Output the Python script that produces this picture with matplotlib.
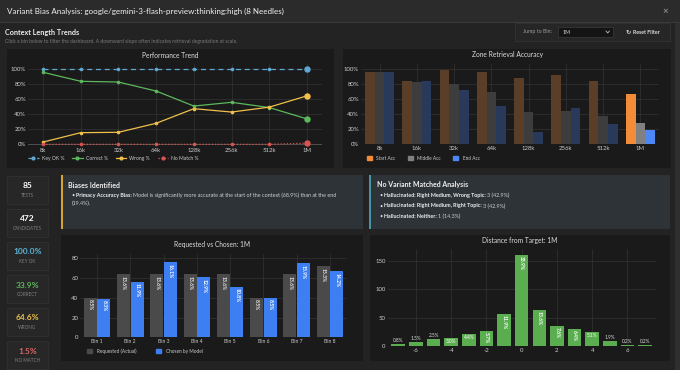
import matplotlib
matplotlib.use('Agg')
import matplotlib.pyplot as plt
from matplotlib.patches import Rectangle, Patch
from matplotlib.lines import Line2D

plt.rcParams['font.family'] = ['Lato', 'DejaVu Sans']
plt.rcParams['axes.unicode_minus'] = False

W, H = 680, 370

# ---- data ----
bins = ['8k', '16k', '32k', '64k', '128k', '256k', '512k', '1M']
key_ok = [100, 100, 100, 100, 100, 100, 100, 100]
correct = [96, 84, 83, 71, 51, 56, 49, 33.9]
wrong = [3, 15.5, 16, 28, 47.5, 43, 49.5, 64.6]
no_match = [0, 0, 0, 0, 0, 0, 0, 1.5]

start_acc = [96, 85, 99, 97, 89, 92, 85, 67]
middle_acc = [96, 83, 81, 70, 43, 45, 38, 28]
end_acc = [97, 84, 72, 51, 17, 48, 27, 19]

needle_bins = ['Bin 1', 'Bin 2', 'Bin 3', 'Bin 4', 'Bin 5', 'Bin 6', 'Bin 7', 'Bin 8']
requested = [40, 64, 64, 64, 64, 40, 64, 72]
chosen = [39, 56, 76, 61, 51, 40, 75, 67]
n_candidates = 472

distances = [-7, -6, -5, -4, -3, -2, -1, 0, 1, 2, 3, 4, 5, 6, 7]
dist_counts = [4, 7, 12, 14, 21, 27, 56, 160, 64, 36, 30, 24, 9, 1, 1]

stat_values = ['85', '472', '100.0%', '33.9%', '64.6%', '1.5%']
stat_labels = ['TESTS', 'CANDIDATES', 'KEY OK', 'CORRECT', 'WRONG', 'NO MATCH']
stat_colors = ['#ffffff', '#ffffff', '#5bb4d8', '#5cb85c', '#f0c04a', '#e06666']

bias_title = 'Biases Identified'
bias_bold = 'Primacy Accuracy Bias:'
bias_text = 'Model is significantly more accurate at the start of the context (68.9%) than at the end'
bias_text2 = '(19.4%).'

nv_title = 'No Variant Matched Analysis'
nv_items = [('Hallucinated: Right Medium, Wrong Topic:', '3 (42.9%)'),
            ('Hallucinated: Right Medium, Right Topic:', '3 (42.9%)'),
            ('Hallucinated: Neither:', '1 (14.3%)')]

BG = '#232323'
HEAD = '#2b2b2b'
PANEL = '#1a1a1a'
GRID = '#333333'
TXT = '#cccccc'

fig = plt.figure(figsize=(W / 100, H / 100), dpi=100, facecolor=BG)
rend = fig.canvas.get_renderer()


def rect(x0, y0, x1, y1, fc, ec='none', lw=0):
    fig.patches.append(Rectangle((x0 / W, 1 - y1 / H), (x1 - x0) / W, (y1 - y0) / H,
                                 transform=fig.transFigure, fc=fc, ec=ec, lw=lw, zorder=-5))


def t(x, y, s, **kw):
    kw.setdefault('va', 'center')
    kw.setdefault('color', TXT)
    return fig.text(x / W, 1 - y / H, s, **kw)


def rich(x, y, parts, size):
    for s, weight, color in parts:
        tx = t(x, y, s, fontsize=size, fontweight=weight, color=color)
        x += tx.get_window_extent(rend).width + 1.6


def px_axes(x0, y0, x1, y1):
    return fig.add_axes([x0 / W, 1 - y1 / H, (x1 - x0) / W, (y1 - y0) / H])


def style(ax):
    ax.set_facecolor(PANEL)
    for s in ax.spines.values():
        s.set_visible(False)
    ax.tick_params(colors=TXT, labelsize=4.3, length=0, pad=1.5)
    ax.grid(True, color=GRID, lw=0.5)
    ax.set_axisbelow(True)


# ---- header ----
rect(0, 0, W, 22, HEAD)
rect(0, 22, W, 22.7, '#3a3a3a')
t(7, 11.5, 'Variant Bias Analysis: google/gemini-3-flash-preview:thinking:high (8 Needles)',
  fontsize=5.8, color='#f2f2f2')
t(665, 11.5, '×', fontsize=7, color='#888888', ha='center', fontweight='bold')
rect(675, 23, 680, H, '#2f2f2f')

t(5, 32, 'Context Length Trends', fontsize=5.2, fontweight='bold', color='#eeeeee')
t(5, 41, 'Click a bin below to filter the dashboard. A downward slope often indicates retrieval degradation at scale.',
  fontsize=3.6, color='#7a7a7a')

rect(515, 23, 670, 41, '#262626', ec='#333333', lw=0.6)
t(523, 32, 'Jump to Bin:', fontsize=3.8, color='#9a9a9a')
rect(558, 27, 613, 37, '#141414', ec='#3c3c3c', lw=0.5)
t(563, 32, '1M', fontsize=3.8, color='#dddddd')
fig.add_artist(Line2D([606 / W, 607.7 / W, 609.4 / W], [1 - 31 / H, 1 - 33 / H, 1 - 31 / H],
                      transform=fig.transFigure, color='#bbbbbb', lw=0.6))
t(628, 32, '↻', fontsize=4.5, color='#dddddd', ha='center', fontweight='bold')
t(633, 32, 'Reset Filter', fontsize=3.8, color='#dddddd', fontweight='bold')

# ---- panels ----
rect(7, 49, 334, 168, PANEL)
rect(343, 49, 671, 168, PANEL)
rect(61, 175, 363, 229, '#2e3337')
rect(61, 175, 63, 229, '#d4a72c')
rect(369, 175, 670, 229, '#2e3337')
rect(369, 175, 371, 229, '#4a93a6')
rect(61, 235, 363, 361, PANEL)
rect(370, 235, 670, 361, PANEL)

for i in range(6):
    y0 = 176 + i * 33
    rect(7, y0, 48, y0 + 28, '#272727', ec='#303030', lw=0.6)
    t(27.5, y0 + 10, stat_values[i], fontsize=6, fontweight='bold', color=stat_colors[i], ha='center')
    t(27.5, y0 + 19.5, stat_labels[i], fontsize=3.3, color='#7f7f7f', ha='center')

# ---- text panels ----
t(68, 185, bias_title, fontsize=5, fontweight='bold', color='#eeeeee')
t(71, 195.5, '•', fontsize=4, color='#dddddd')
rich(75.5, 195.5, [(bias_bold, 'bold', '#eeeeee'), (bias_text, 'normal', '#cfcfcf')], 3.9)
t(71.5, 203, bias_text2, fontsize=3.9, color='#cfcfcf')

t(377, 185, nv_title, fontsize=5, fontweight='bold', color='#eeeeee')
for i, (b, r) in enumerate(nv_items):
    yy = 195.5 + i * 10.5
    t(379, yy, '•', fontsize=4, color='#dddddd')
    rich(383.5, yy, [(b, 'bold', '#eeeeee'), (r, 'normal', '#cfcfcf')], 3.9)

# ---- Performance Trend ----
t(170.5, 55, 'Performance Trend', fontsize=4.8, ha='center', color='#dddddd')
ax1 = px_axes(28, 64, 322, 146)
style(ax1)
xs = list(range(len(bins)))
ax1.set_xlim(-0.4, 7.4)
ax1.set_ylim((144.3 - 146) / 0.75, 100 + (69.3 - 64) / 0.75)
ax1.set_yticks([0, 20, 40, 60, 80, 100])
ax1.set_yticklabels([f'{v}%' for v in [0, 20, 40, 60, 80, 100]])
ax1.set_xticks(xs)
ax1.set_xticklabels(bins)
ax1.axhline(0, color='#555555', lw=0.6, zorder=1)
series = [(key_ok, '#5fa8d3', (0, (4, 3)), 'Key OK %'),
          (correct, '#5cb85c', '-', 'Correct %'),
          (wrong, '#f0c04a', '-', 'Wrong %'),
          (no_match, '#d9534f', (0, (1, 1.5)), 'No Match %')]
handles = []
for vals, col, ls, lab in series:
    ax1.plot(xs, vals, color=col, ls=ls, lw=0.9, marker='o', ms=1.6, zorder=3)
    ax1.plot([xs[-1]], [vals[-1]], 'o', color=col, ms=3.6, zorder=4)
    handles.append(Line2D([0], [0], color=col, ls=ls, lw=0.9, marker='o', ms=2, label=lab))
ax1.legend(handles=handles, ncol=4, loc='center left', bbox_to_anchor=(28 / W, 1 - 158 / H),
           bbox_transform=fig.transFigure, frameon=False, fontsize=3.6, labelcolor=TXT,
           handlelength=2.1, handletextpad=0.6, columnspacing=1.6, borderpad=0, borderaxespad=0)

# ---- Zone Retrieval Accuracy ----
t(507, 55, 'Zone Retrieval Accuracy', fontsize=4.8, ha='center', color='#dddddd')
ax2 = px_axes(361, 64, 659, 144.3)
style(ax2)
ax2.set_xlim(-0.5, 7.5)
ax2.set_ylim(0, (144.3 - 64) / 0.75)
ax2.set_yticks([0, 20, 40, 60, 80, 100])
ax2.set_yticklabels([f'{v}%' for v in [0, 20, 40, 60, 80, 100]])
ax2.set_xticks(xs)
ax2.set_xticklabels(bins)
ax2.axhline(0, color='#555555', lw=0.6, zorder=3)
zone = [(start_acc, '#f28c38', '#5b3e27', 'Start Acc', -1),
        (middle_acc, '#808080', '#3d3d3d', 'Middle Acc', 0),
        (end_acc, '#4d86f5', '#28395b', 'End Acc', 1)]
bw = 0.26
zh = []
for vals, col, dim, lab, k in zone:
    cols = [dim] * (len(bins) - 1) + [col]
    ax2.bar([x + k * bw for x in xs], vals, width=bw, color=cols, zorder=2)
    zh.append(Patch(color=col, label=lab))
ax2.legend(handles=zh, ncol=3, loc='center left', bbox_to_anchor=(367 / W, 1 - 158 / H),
           bbox_transform=fig.transFigure, frameon=False, fontsize=3.4, labelcolor=TXT,
           handlelength=1.0, handleheight=1.0, handletextpad=1.0, columnspacing=2.6,
           borderpad=0, borderaxespad=0)

# ---- Requested vs Chosen ----
t(212, 244, 'Requested vs Chosen: 1M', fontsize=4.8, ha='center', color='#dddddd')
ax3 = px_axes(80.3, 254.4, 346.7, 337.3)
style(ax3)
bx = list(range(len(needle_bins)))
ax3.set_xlim(-0.5, 7.5)
ax3.set_ylim(0, (337.3 - 254.4) / 0.9875)
ax3.set_yticks([0, 20, 40, 60, 80])
ax3.set_xticks(bx)
ax3.set_xticklabels(needle_bins, fontsize=3.6)
ax3.axhline(0, color='#555555', lw=0.6, zorder=3)
w3 = 0.39
ax3.bar([x - w3 / 2 - 0.01 for x in bx], requested, width=w3, color='#4a4a4a', zorder=2)
ax3.bar([x + w3 / 2 + 0.01 for x in bx], chosen, width=w3, color='#3d7ef2', zorder=2)
for x, r, c in zip(bx, requested, chosen):
    ax3.text(x - w3 / 2 - 0.01, r - 1.5, f'{r / n_candidates * 100:.1f}%', rotation=270,
             ha='center', va='top', fontsize=3.6, color='#e8e8e8', fontweight='bold')
    ax3.text(x + w3 / 2 + 0.01, c - 1.5, f'{c / n_candidates * 100:.1f}%', rotation=270,
             ha='center', va='top', fontsize=3.6, color='#ffffff', fontweight='bold')
rh = [Patch(color='#4a4a4a', label='Requested (Actual)'), Patch(color='#3d7ef2', label='Chosen by Model')]
ax3.legend(handles=rh, ncol=2, loc='center left', bbox_to_anchor=(87 / W, 1 - 351 / H),
           bbox_transform=fig.transFigure, frameon=False, fontsize=3.4, labelcolor=TXT,
           handlelength=1.0, handleheight=1.0, handletextpad=1.2, columnspacing=4.0,
           borderpad=0, borderaxespad=0)

# ---- Distance from Target ----
t(520, 240, 'Distance from Target: 1M', fontsize=4.8, ha='center', color='#dddddd')
ax4 = px_axes(387.7, 249.3, 655.7, 346)
style(ax4)
ax4.set_xlim(-7.6, 7.6)
ax4.set_ylim(0, (346 - 249.3) / 0.5687)
ax4.set_yticks([0, 50, 100, 150])
ax4.set_xticks([-6, -4, -2, 0, 2, 4, 6])
ax4.axhline(0, color='#555555', lw=0.6, zorder=3)
ax4.bar(distances, dist_counts, width=0.77, color='#5aae4f', zorder=2)
for d, c in zip(distances, dist_counts):
    lab = f'{c / n_candidates * 100:.1f}%'
    if c < 13:
        ax4.text(d, c + 2, lab, ha='center', va='bottom', fontsize=3.4, color='#dddddd')
    elif c < 25:
        ax4.text(d, c - 2, lab, ha='center', va='top', fontsize=3.4, color='#ffffff')
    else:
        ax4.text(d, c - 2, lab, rotation=270, ha='center', va='top', fontsize=3.6,
                 color='#ffffff', fontweight='bold')

fig.savefig('out.png', dpi=100, facecolor=BG)
